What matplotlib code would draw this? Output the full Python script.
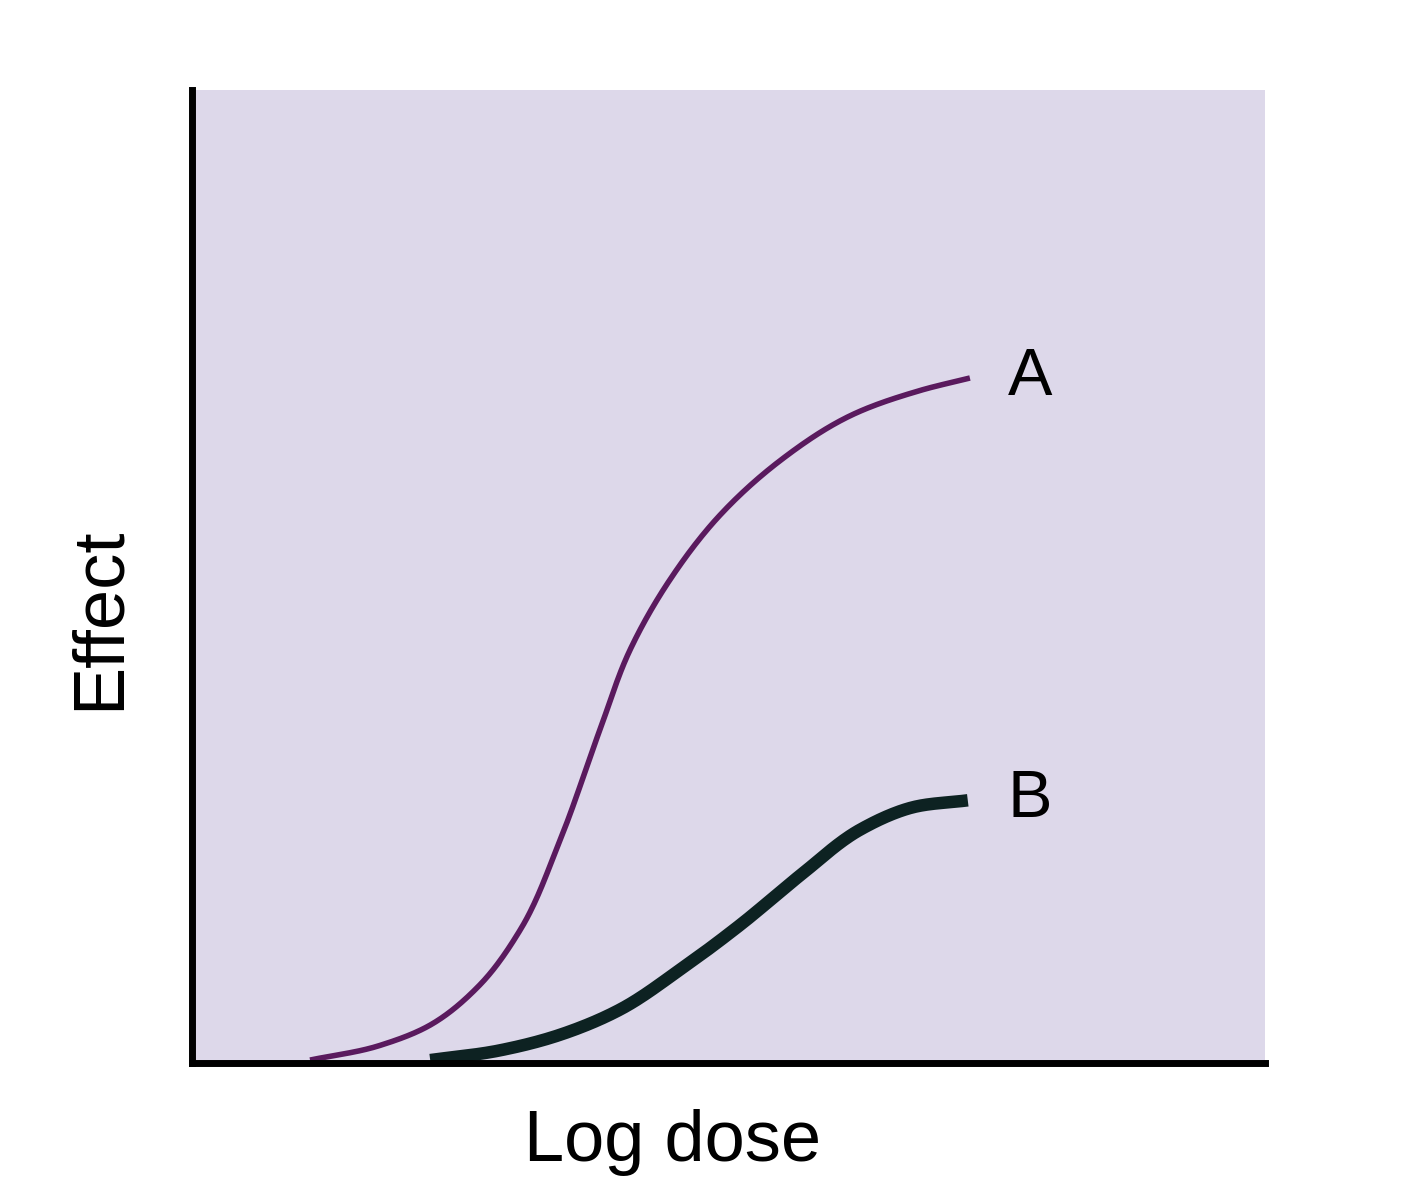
import matplotlib
matplotlib.use("Agg")
import matplotlib.pyplot as plt
import numpy as np

a_x = [1.10,1.75,2.22,2.68,3.06,3.43,3.80,4.08,4.45,4.92,5.48,6.13,6.78,7.25]
a_y = [0.03,0.18,0.39,0.80,1.37,2.29,3.42,4.24,4.96,5.63,6.19,6.65,6.91,7.04]
b_x = [2.22,2.87,3.43,3.99,4.55,5.11,5.67,6.23,6.69,7.23]
b_y = [0.03,0.13,0.29,0.55,0.96,1.42,1.93,2.40,2.62,2.70]

plt.rcParams['font.family'] = ['Liberation Sans', 'DejaVu Sans']

def smooth(x, y, n=300):
    x = np.asarray(x); y = np.asarray(y)
    t = np.r_[0, np.cumsum(np.hypot(np.diff(x), np.diff(y)))]
    tt = np.linspace(0, t[-1], n)
    # Catmull-Rom style via local cubic Hermite
    m_x = np.gradient(x, t); m_y = np.gradient(y, t)
    xs, ys = [], []
    for i in range(len(t) - 1):
        h = t[i+1] - t[i]
        s = np.linspace(0, 1, 30, endpoint=False)
        h00 = 2*s**3 - 3*s**2 + 1; h10 = s**3 - 2*s**2 + s
        h01 = -2*s**3 + 3*s**2; h11 = s**3 - s**2
        xs.append(h00*x[i] + h10*h*m_x[i] + h01*x[i+1] + h11*h*m_x[i+1])
        ys.append(h00*y[i] + h10*h*m_y[i] + h01*y[i+1] + h11*h*m_y[i+1])
    xs.append([x[-1]]); ys.append([y[-1]])
    return np.concatenate(xs), np.concatenate(ys)

fig = plt.figure(figsize=(14.24, 12), dpi=100)
ax = fig.add_axes([192/1424, 1-1063/1200, (1265-192)/1424, (1063-90)/1200])
ax.set_facecolor("#ddd8ea")
ax.plot(*smooth(a_x, a_y), color="#5a1a5e", lw=4, solid_capstyle="butt")
ax.plot(*smooth(b_x, b_y), color="#0d2222", lw=9, solid_capstyle="butt")
ax.text(7.6, 7.04, "A", fontsize=48, va="center", ha="left")
ax.text(7.6, 2.70, "B", fontsize=48, va="center", ha="left")
ax.set_xlim(0, 10)
ax.set_ylim(0, 10)
ax.set_xticks([]); ax.set_yticks([])
for s in ["top", "right"]:
    ax.spines[s].set_visible(False)
for s in ["left", "bottom"]:
    ax.spines[s].set_linewidth(5)
fig.text(673/1424, 1-1143/1200, "Log dose", fontsize=52, ha="center", va="center")
fig.text(100/1424, 1-618/1200, "Effect", fontsize=52, ha="center", va="center", rotation=90)
fig.savefig("out.png", dpi=100)
